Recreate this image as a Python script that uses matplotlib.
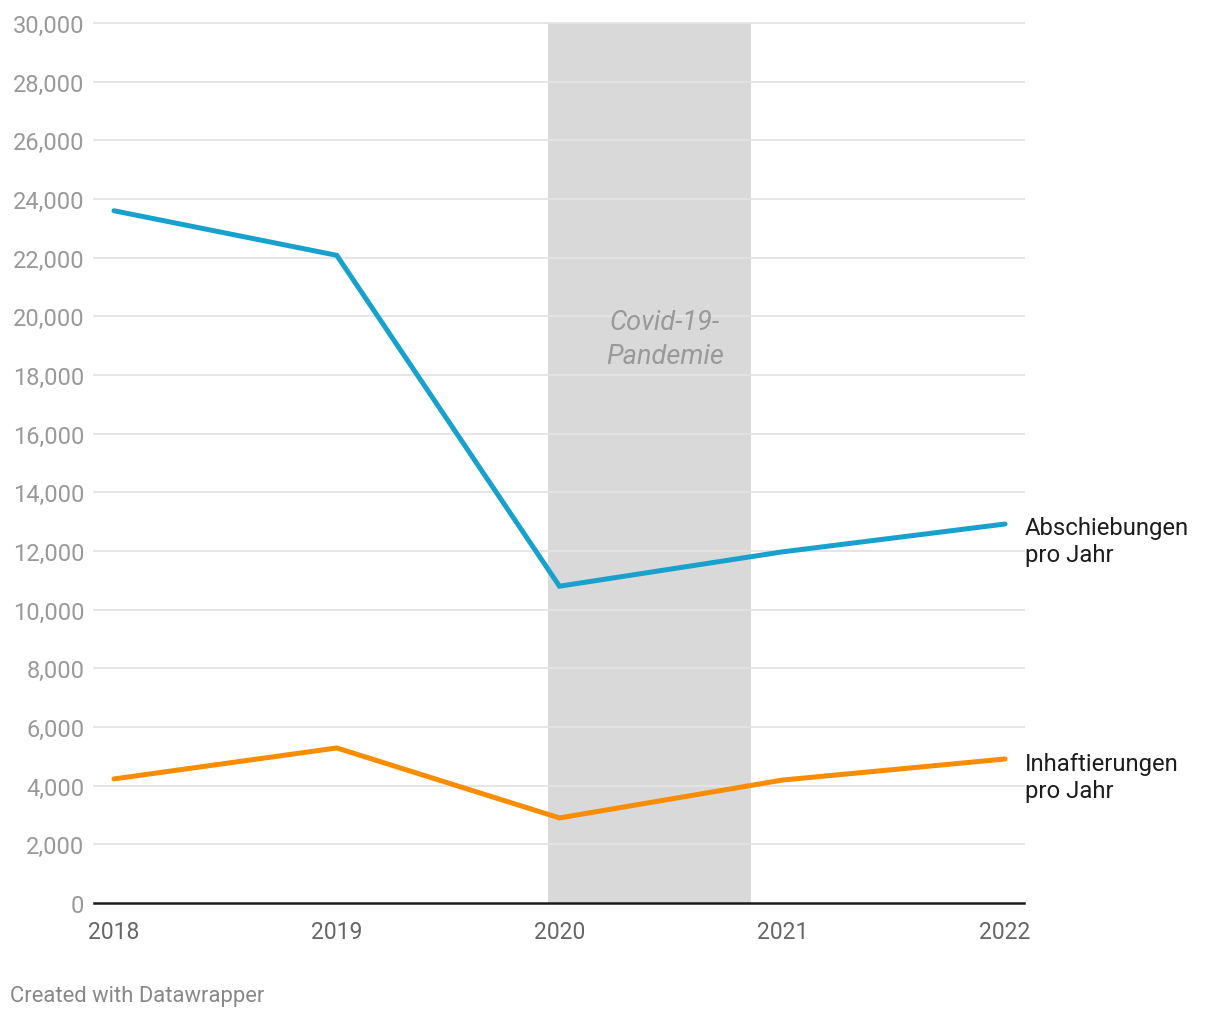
import matplotlib.pyplot as plt
import numpy as np

plt.rcParams['font.family'] = ['Roboto', 'DejaVu Sans']

years = [2018, 2019, 2020, 2021, 2022]
abschiebungen = [23600, 22080, 10800, 11970, 12920]
inhaftierungen = [4230, 5285, 2900, 4190, 4910]
yticks = list(range(0, 30001, 2000))
covid_start, covid_end = 2019.95, 2020.86

fig = plt.figure(figsize=(12.2, 10.2), dpi=100)
ax = fig.add_axes([94/1220, 1 - 904/1020, (1024 - 94)/1220, (904 - 24)/1020])

ax.axvspan(covid_start, covid_end, ymin=0, ymax=1, color='#d9d9d9', zorder=1, lw=0)
for y in yticks[1:]:
    ax.axhline(y, color='#e3e3e3', lw=1.3, zorder=2, clip_on=False)
ax.axhline(0, color='#1a1a1a', lw=1.8, zorder=4, clip_on=False)

ax.plot(years, abschiebungen, color='#18a1cd', lw=3.6, solid_capstyle='round',
        solid_joinstyle='miter', zorder=5)
ax.plot(years, inhaftierungen, color='#fa8c00', lw=3.6, solid_capstyle='round',
        solid_joinstyle='miter', zorder=5)

ax.text(665, 1020 - 340, 'Covid-19-\nPandemie', transform=None, ha='center',
        va='center', style='italic', color='#999999', fontsize=19.5, linespacing=1.38, zorder=6)

ax.text(1025, 1020 - 542, 'Abschiebungen\npro Jahr', transform=None, ha='left', va='center',
        color='#1d1d1d', fontsize=17.2, linespacing=1.26)
ax.text(1025, 1020 - 778, 'Inhaftierungen\npro Jahr', transform=None, ha='left', va='center',
        color='#1d1d1d', fontsize=17.2, linespacing=1.26)

ax.set_xlim(2018 - 20/223, 2022 + 19/223)
ax.set_ylim(0, 30000)
ax.set_xticks(years)
ax.set_xticklabels([str(y) for y in years], fontsize=16.5, color='#666666')
ax.set_yticks(yticks)
ax.set_yticklabels([f'{y:,}' for y in yticks], fontsize=17, color='#999999')
ax.tick_params(axis='both', length=0)
ax.tick_params(axis='y', pad=7)
ax.tick_params(axis='x', pad=12)
for s in ax.spines.values():
    s.set_visible(False)

fig.text(10/1220, 1 - 997/1020, 'Created with Datawrapper', ha='left', va='center',
         color='#888888', fontsize=15.8)

fig.savefig('out.png', dpi=100)
